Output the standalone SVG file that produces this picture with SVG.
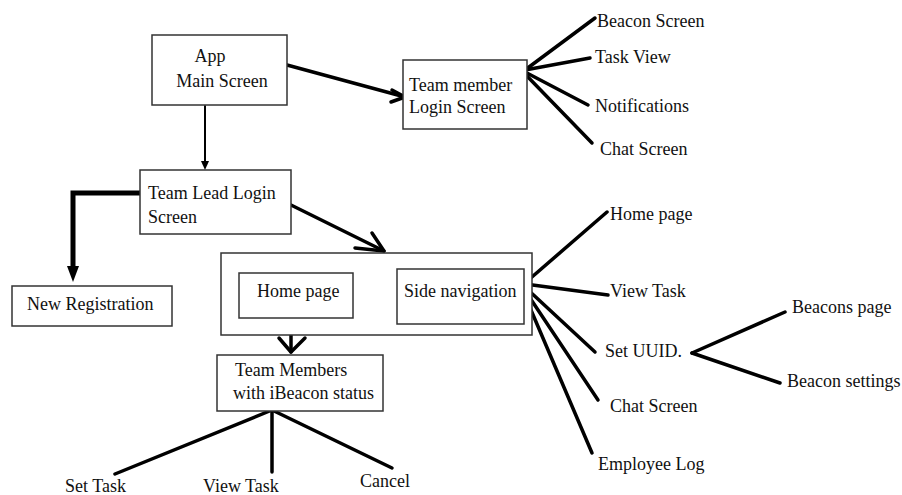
<svg xmlns="http://www.w3.org/2000/svg" width="902" height="495" viewBox="0 0 902 495">
<style>
text{font-family:"Liberation Serif","Times New Roman",serif;font-size:18px;fill:#111}
.box{fill:#fff;stroke:#333;stroke-width:1.5}
.ln{stroke:#000;stroke-width:3.5;fill:none;stroke-linecap:round}
.hd{stroke:#000;stroke-width:3.5;fill:none;stroke-linecap:round;stroke-linejoin:round}
</style>
<rect width="902" height="495" fill="#fff"/>
<g id="connectors">
<line class="ln" x1="287" y1="65" x2="405" y2="97"/>
<path class="hd" d="M392 90 L405 97 L391 102"/>
<line class="ln" x1="205" y1="106" x2="205" y2="166" style="stroke-width:2"/>
<path d="M201 161 L209 161 L205 170 Z" fill="#000"/>
<path d="M140 193 L73 193 L73 268" stroke="#000" stroke-width="5" fill="none"/>
<path d="M67 266 L79 266 L73 282 Z" fill="#000"/>
<line class="ln" x1="291" y1="205" x2="384" y2="251"/>
<path class="hd" d="M372 233 L384 251 L355 248"/>
<line class="ln" x1="291" y1="318" x2="291" y2="352"/>
<path class="hd" d="M279 338 L291 352 L305 338"/>
<line class="ln" x1="525" y1="70" x2="595" y2="18"/>
<line class="ln" x1="525" y1="70" x2="590" y2="58"/>
<line class="ln" x1="525" y1="72" x2="588" y2="105"/>
<line class="ln" x1="525" y1="74" x2="592" y2="143"/>
<line class="ln" x1="525" y1="283" x2="607" y2="212"/>
<line class="ln" x1="525" y1="284" x2="608" y2="295"/>
<line class="ln" x1="526" y1="288" x2="595" y2="352"/>
<line class="ln" x1="526" y1="292" x2="598" y2="400"/>
<line class="ln" x1="525" y1="296" x2="592" y2="453"/>
<line class="ln" x1="692" y1="353" x2="785" y2="312"/>
<line class="ln" x1="692" y1="353" x2="780" y2="383"/>
<line class="ln" x1="272" y1="410" x2="115" y2="474"/>
<line class="ln" x1="272" y1="410" x2="272" y2="472"/>
<line class="ln" x1="272" y1="410" x2="392" y2="468"/>
</g>
<g id="app-main">
<rect class="box" x="152" y="35" width="135" height="70"/>
<text x="210" y="62" text-anchor="middle">App</text>
<text x="222" y="87" text-anchor="middle">Main Screen</text>
</g>
<g id="team-member-login">
<rect class="box" x="403" y="60" width="124" height="69"/>
<text x="409" y="91">Team member</text>
<text x="409" y="113">Login Screen</text>
</g>
<g id="beacon-screen"><text x="597" y="27">Beacon Screen</text></g>
<g id="task-view"><text x="595" y="63">Task View</text></g>
<g id="notifications"><text x="595" y="112">Notifications</text></g>
<g id="chat-screen-1"><text x="600" y="155">Chat Screen</text></g>
<g id="team-lead-login">
<rect class="box" x="140" y="170" width="151" height="64"/>
<text x="148" y="199">Team Lead Login</text>
<text x="148" y="223">Screen</text>
</g>
<g id="new-registration">
<rect class="box" x="12" y="286" width="160" height="40"/>
<text x="27" y="310">New Registration</text>
</g>
<g id="container">
<rect class="box" x="221" y="253" width="311" height="82"/>
</g>
<g id="home-page-box">
<rect class="box" x="239" y="273" width="114" height="45"/>
<text x="257" y="297">Home page</text>
</g>
<g id="side-navigation">
<rect class="box" x="397" y="269" width="127" height="55"/>
<text x="404" y="297">Side navigation</text>
</g>
<g id="team-members">
<rect class="box" x="217" y="355" width="166" height="56"/>
<text x="235" y="376">Team Members</text>
<text x="233" y="399">with iBeacon status</text>
</g>
<g id="set-task"><text x="65" y="492">Set Task</text></g>
<g id="view-task-1"><text x="203" y="492">View Task</text></g>
<g id="cancel"><text x="360" y="487">Cancel</text></g>
<g id="home-page-2"><text x="610" y="220">Home page</text></g>
<g id="view-task-2"><text x="610" y="297">View Task</text></g>
<g id="set-uuid"><text x="605" y="357">Set UUID.</text></g>
<g id="chat-screen-2"><text x="610" y="412">Chat Screen</text></g>
<g id="employee-log"><text x="598" y="470">Employee Log</text></g>
<g id="beacons-page"><text x="792" y="313">Beacons page</text></g>
<g id="beacon-settings"><text x="787" y="387">Beacon settings</text></g>
</svg>
